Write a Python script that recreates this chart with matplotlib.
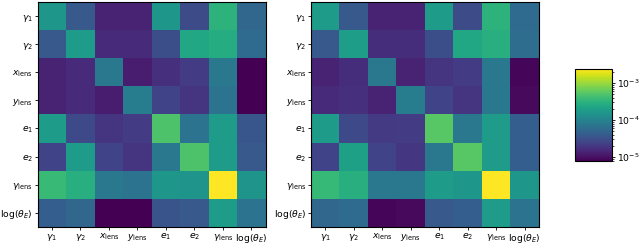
import numpy as np
import matplotlib
matplotlib.use("Agg")
import matplotlib.pyplot as plt
from matplotlib.colors import LogNorm

labels = [r'$\gamma_1$', r'$\gamma_2$', r'$x_{\rm lens}$', r'$y_{\rm lens}$',
          r'$e_1$', r'$e_2$', r'$\gamma_{\rm lens}$', r'$\log(\theta_E)$']

# left panel covariance magnitudes
cov_left = np.array([
    [1.62e-4, 3.9e-5, 1.38e-5, 1.38e-5, 1.62e-4, 2.9e-5, 3.2e-4, 5.2e-5],
    [3.9e-5, 1.81e-4, 1.55e-5, 1.55e-5, 3.1e-5, 2.4e-4, 2.7e-4, 5.8e-5],
    [1.38e-5, 1.55e-5, 7.7e-5, 1.23e-5, 1.74e-5, 2.18e-5, 7.7e-5, 7.8e-6],
    [1.38e-5, 1.55e-5, 1.23e-5, 8.7e-5, 2.45e-5, 1.83e-5, 6.9e-5, 7.8e-6],
    [1.81e-4, 2.75e-5, 1.83e-5, 2.18e-5, 4.8e-4, 6.9e-5, 1.81e-4, 3.65e-5],
    [2.45e-5, 1.81e-4, 2.45e-5, 1.83e-5, 7.7e-5, 4.8e-4, 1.81e-4, 3.9e-5],
    [3.8e-4, 2.85e-4, 7.7e-5, 6.9e-5, 1.62e-4, 1.53e-4, 2.4e-3, 1.53e-4],
    [4.35e-5, 5.2e-5, 7.8e-6, 7.8e-6, 3.45e-5, 3.9e-5, 1.81e-4, 6.9e-5],
])

# right panel covariance magnitudes
cov_right = np.array([
    [1.81e-4, 3.9e-5, 1.38e-5, 1.38e-5, 1.81e-4, 2.9e-5, 3.2e-4, 5.8e-5],
    [3.9e-5, 1.92e-4, 1.64e-5, 1.64e-5, 3.1e-5, 2.4e-4, 2.85e-4, 6.1e-5],
    [1.38e-5, 1.64e-5, 7.7e-5, 1.38e-5, 1.83e-5, 2.18e-5, 7.7e-5, 8.7e-6],
    [1.55e-5, 1.74e-5, 1.38e-5, 8.7e-5, 2.45e-5, 1.83e-5, 7.7e-5, 9.0e-6],
    [1.81e-4, 2.75e-5, 2.06e-5, 2.18e-5, 5.4e-4, 7.7e-5, 1.81e-4, 4.35e-5],
    [2.45e-5, 2.03e-4, 2.45e-5, 1.94e-5, 7.7e-5, 5.4e-4, 1.81e-4, 4.35e-5],
    [3.6e-4, 2.85e-4, 7.7e-5, 7.7e-5, 1.81e-4, 1.62e-4, 2.4e-3, 1.62e-4],
    [5.2e-5, 5.8e-5, 8.7e-6, 9.0e-6, 3.9e-5, 4.35e-5, 1.81e-4, 6.9e-5],
])

vmin, vmax = 7.8e-6, 2.4e-3
norm = LogNorm(vmin=vmin, vmax=vmax)

fig = plt.figure(figsize=(6.4, 2.44), dpi=100)
ax1 = fig.add_axes([0.059, 0.070, 0.356, 0.922])
ax2 = fig.add_axes([0.486, 0.070, 0.356, 0.922])
cax = fig.add_axes([0.898, 0.340, 0.058, 0.377])

for ax, cov in [(ax1, cov_left), (ax2, cov_right)]:
    im = ax.imshow(cov, cmap='viridis', norm=norm, aspect='auto')
    ax.set_xticks(range(len(labels)))
    ax.set_yticks(range(len(labels)))
    ax.set_xticklabels(labels, fontsize=6.7)
    ax.set_yticklabels(labels, fontsize=6.7)
    ax.tick_params(length=2, width=0.6, pad=1.5)

cb = fig.colorbar(im, cax=cax)
cb.ax.tick_params(labelsize=6.6, length=2.5, width=0.6, pad=1.2)
cb.ax.tick_params(which='minor', length=1.2, width=0.5)

fig.savefig("out.png", dpi=100)
